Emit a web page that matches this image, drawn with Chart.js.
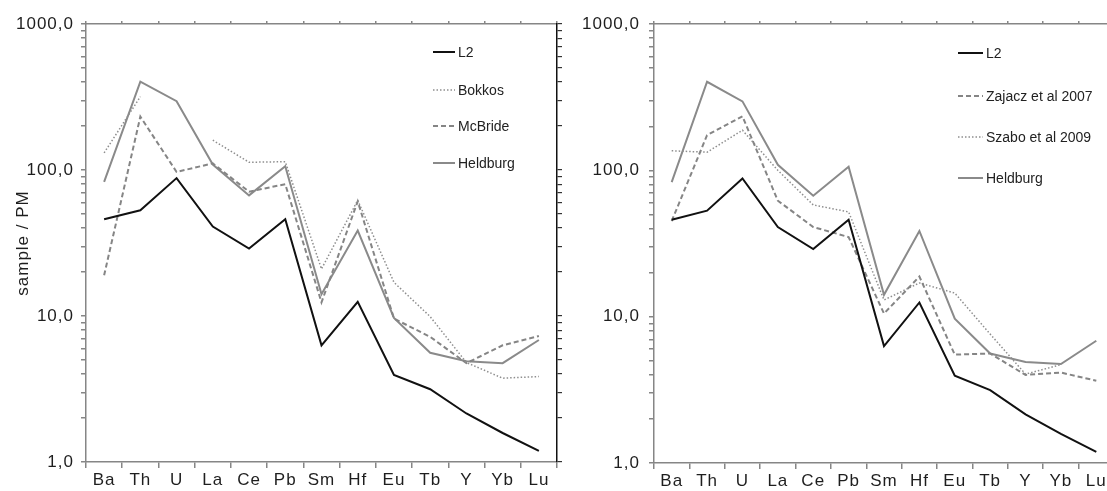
<!DOCTYPE html>
<html lang="en">
<head>
  <meta charset="UTF-8" />
  <title>Trace element patterns normalised to primitive mantle</title>
  <script src="https://cdn.jsdelivr.net/npm/chart.js"></script>
  <style>
    html, body {
      margin: 0;
      padding: 0;
      width: 1107px;
      height: 491px;
      overflow: hidden;
      background: #fff;
      font-family: 'Liberation Sans', Arial, sans-serif;
    }

    .panel {
      position: absolute;
      top: 0;
      height: 491px;
    }

    .panel canvas {
      display: block;
    }

    #leftPanel { left: 0; width: 570px; }
    #rightPanel { left: 580px; width: 547px; }

    .key {
      position: absolute;
      height: 16px;
      font-size: 14px;
      line-height: 16px;
      color: #222;
      white-space: nowrap;
    }

    .key svg {
      position: absolute;
      left: 0;
      top: 0;
      overflow: visible;
    }

    .key span {
      position: absolute;
      top: 0;
    }
  </style>
</head>
<body>
  <div id="leftPanel" class="panel"><canvas id="leftChart" width="570" height="491"></canvas></div>
  <div id="rightPanel" class="panel"><canvas id="rightChart" width="547" height="491"></canvas></div>

  <script>
    // element order on the x axis
    const elements = ['Ba', 'Th', 'U', 'La', 'Ce', 'Pb', 'Sm', 'Hf', 'Eu', 'Tb', 'Y', 'Yb', 'Lu'];

    // sample / primitive mantle
    const l2 = [46, 53, 88, 41, 29, 46, 6.3, 12.5, 3.95, 3.15, 2.15, 1.58, 1.19];
    const heldburg = [83, 403, 296, 109, 67, 106, 14.1, 38.5, 9.7, 5.6, 4.9, 4.75, 6.85];
    const bokkos = [131, 318, null, 160, 113, 114, 21, 62, 17, 9.9, 4.8, 3.75, 3.85];
    const mcbride = [19, 232, 97, 111, 71, 80, 12.4, 61, 9.6, 7.2, 4.75, 6.3, 7.3];
    const zajacz2007 = [45, 174, 234, 62, 41, 35, 10.5, 18.8, 5.5, 5.6, 4.0, 4.15, 3.65];
    const szabo2009 = [136, 133, 188, 100, 58, 52, 13, 17, 14.5, 7.6, 4.05, 4.7, null];

    // log axis: tick marks at every 1..9 step, labels only on the decades
    const yTickValues = [1, 2, 3, 4, 5, 6, 7, 8, 9, 10, 20, 30, 40, 50, 60, 70, 80, 90,
                         100, 200, 300, 400, 500, 600, 700, 800, 900, 1000];
    const yLabelValues = [1, 10, 100, 1000];
    const yLabelTexts = ['1,0', '10,0', '100,0', '1000,0'];

    const GREY_AXIS = '#868686';
    const TEXT = '#1e1e1e';

    const lineStyles = {
      l2:       { color: '#111111', width: 2,   dash: [] },
      heldburg: { color: '#8a8a8a', width: 2,   dash: [] },
      dashed:   { color: '#858585', width: 2,   dash: [5, 3] },
      dotted:   { color: '#8e8e8e', width: 1.5, dash: [1.5, 2] }
    };

    // axis labels in the original are drawn a little wide
    const labelSpacing = {
      id: 'labelSpacing',
      beforeDraw(chart) { chart.ctx.letterSpacing = '1px'; },
      afterDraw(chart) { chart.ctx.letterSpacing = '0px'; }
    };

    function makeChart(canvasId, series, box) {
      const tickFont = { family: "'Liberation Sans', Arial, sans-serif", size: 17 };

      return new Chart(document.getElementById(canvasId), {
        type: 'line',
        data: {
          labels: elements,
          datasets: series.map(s => ({
            label: s.label,
            data: s.data,
            borderColor: s.style.color,
            borderWidth: s.style.width,
            borderDash: s.style.dash,
            pointRadius: 0,
            fill: false,
            tension: 0,
            spanGaps: false,
            xAxisID: 'x',
            yAxisID: 'y'
          }))
        },
        options: {
          responsive: false,
          animation: false,
          layout: { padding: 0 },
          plugins: {
            legend: { display: false },
            tooltip: { enabled: false }
          },
          scales: {
            x: {
              type: 'category',
              position: 'bottom',
              offset: true,
              grid: { offset: true, drawOnChartArea: false, tickLength: 6, color: GREY_AXIS, lineWidth: 1.5 },
              border: { color: GREY_AXIS, width: 1.5 },
              ticks: { font: tickFont, color: TEXT, padding: 2, maxRotation: 0, autoSkip: false },
              afterFit: s => { s.height = box.bottom; }
            },
            xTop: {
              type: 'category',
              position: 'top',
              offset: true,
              grid: { offset: true, drawOnChartArea: false, tickLength: 3, color: GREY_AXIS, lineWidth: 1.5 },
              border: { color: GREY_AXIS, width: 1.5 },
              ticks: { display: false },
              afterFit: s => { s.height = box.top; }
            },
            y: {
              type: 'logarithmic',
              position: 'left',
              min: 1,
              max: 1000,
              afterBuildTicks: s => { s.ticks = yTickValues.map(v => ({ value: v })); },
              grid: { drawOnChartArea: false, tickLength: 5, color: GREY_AXIS, lineWidth: 1.5 },
              border: { color: GREY_AXIS, width: 1.5 },
              ticks: {
                font: tickFont,
                color: TEXT,
                padding: box.labelPad,
                autoSkip: false,
                callback: v => {
                  const i = yLabelValues.indexOf(v);
                  return i >= 0 ? yLabelTexts[i] : '';
                }
              },
              title: {
                display: box.title !== '',
                text: box.title,
                color: TEXT,
                font: tickFont,
                padding: { top: 13, bottom: 0 }
              },
              afterFit: s => { s.width = box.left; }
            },
            yRight: {
              type: 'logarithmic',
              position: 'right',
              min: 1,
              max: 1000,
              afterBuildTicks: s => { s.ticks = yTickValues.map(v => ({ value: v })); },
              grid: { drawOnChartArea: false, tickLength: 5, color: '#333', lineWidth: 1.2 },
              border: { color: '#111', width: 1.5 },
              ticks: { display: false, autoSkip: false },
              afterFit: s => { s.width = box.right; }
            }
          }
        },
        plugins: [labelSpacing]
      });
    }

    // html key drawn inside the plot area
    function addKey(panelId, x, rowsY, sampleW, series) {
      const panel = document.getElementById(panelId);
      series.forEach((s, i) => {
        const item = document.createElement('div');
        item.className = 'key';
        item.style.left = x + 'px';
        item.style.top = (rowsY[i] - 8) + 'px';

        const svgNS = 'http://www.w3.org/2000/svg';
        const svg = document.createElementNS(svgNS, 'svg');
        svg.setAttribute('width', sampleW);
        svg.setAttribute('height', 16);
        const line = document.createElementNS(svgNS, 'line');
        line.setAttribute('x1', 0);
        line.setAttribute('x2', sampleW);
        line.setAttribute('y1', 8);
        line.setAttribute('y2', 8);
        line.setAttribute('stroke', s.style.color);
        line.setAttribute('stroke-width', s.style.width);
        if (s.style.dash.length) line.setAttribute('stroke-dasharray', s.style.dash.join(' '));
        svg.appendChild(line);

        const text = document.createElement('span');
        text.style.left = (sampleW + 3) + 'px';
        text.textContent = s.label;

        item.appendChild(svg);
        item.appendChild(text);
        panel.appendChild(item);
      });
    }

    const leftSeries = [
      { label: 'L2', data: l2, style: lineStyles.l2 },
      { label: 'Bokkos', data: bokkos, style: lineStyles.dotted },
      { label: 'McBride', data: mcbride, style: lineStyles.dashed },
      { label: 'Heldburg', data: heldburg, style: lineStyles.heldburg }
    ];

    const rightSeries = [
      { label: 'L2', data: l2, style: lineStyles.l2 },
      { label: 'Zajacz et al 2007', data: zajacz2007, style: lineStyles.dashed },
      { label: 'Szabo et al 2009', data: szabo2009, style: lineStyles.dotted },
      { label: 'Heldburg', data: heldburg, style: lineStyles.heldburg }
    ];

    makeChart('leftChart', leftSeries, { left: 86, right: 13, top: 24, bottom: 29, labelPad: 7, title: 'sample / PM' });
    makeChart('rightChart', rightSeries, { left: 74, right: 13, top: 24, bottom: 28, labelPad: 9, title: '' });

    addKey('leftPanel', 433, [52, 90, 126, 163], 22, leftSeries);
    addKey('rightPanel', 958 - 580, [53, 96, 137, 178], 25, rightSeries);
  </script>
</body>
</html>
